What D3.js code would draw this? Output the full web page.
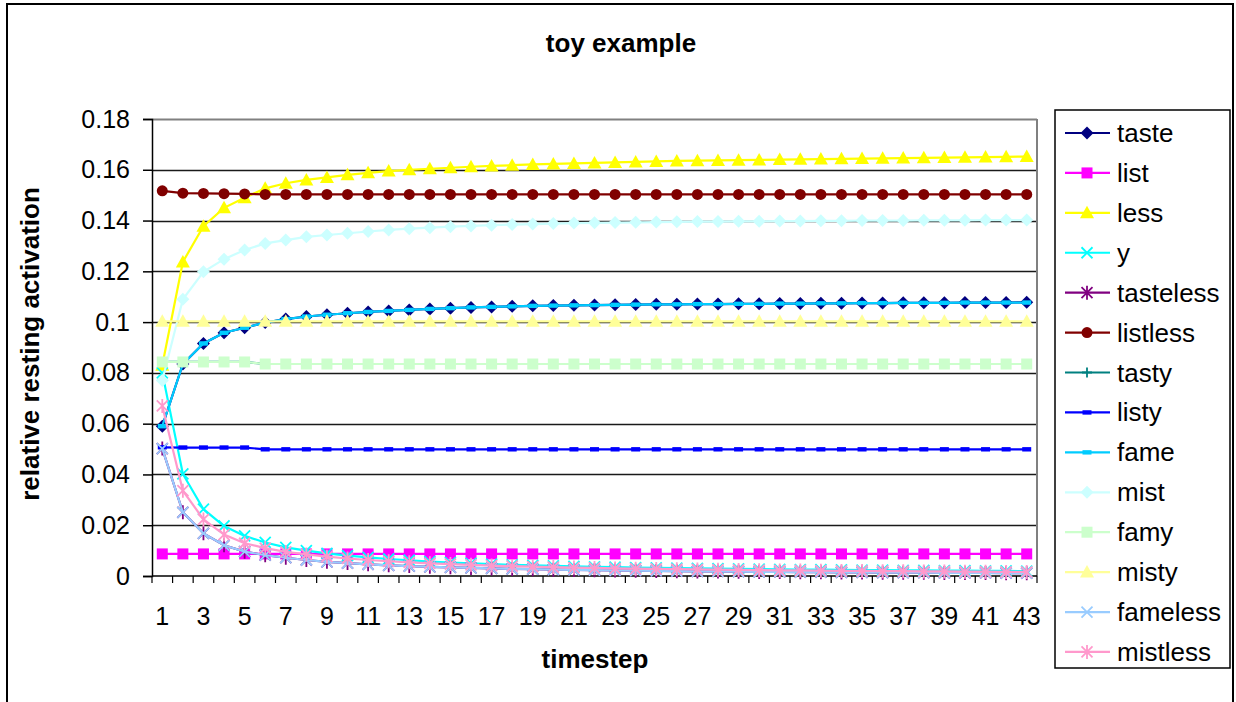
<!DOCTYPE html>
<html>
<head>
<meta charset="utf-8">
<script src="https://cdn.jsdelivr.net/npm/d3@7"></script>
<style>
  html, body { margin: 0; padding: 0; background: #fff; }
  svg { display: block; font-family: "Liberation Sans", Arial, sans-serif; }
</style>
</head>
<body>
<svg id="chart" width="1236" height="702"></svg>
<script>
// ---- data -------------------------------------------------------------
const timesteps = d3.range(1, 44);
const yTicks = [0, 0.02, 0.04, 0.06, 0.08, 0.1, 0.12, 0.14, 0.16, 0.18];
const xTickLabels = timesteps.filter(t => t % 2 === 1);

const taste = [0.059,0.0835,0.0916,0.0958,0.0978,0.0998,0.1012,0.1022,0.1029,0.1035,0.104,0.1044,0.1048,0.1052,0.1055,0.1058,0.106,0.1062,0.1064,0.1065,0.1066,0.1067,0.1068,0.1069,0.107,0.107,0.1071,0.1071,0.1072,0.1072,0.1073,0.1073,0.1074,0.1074,0.1075,0.1075,0.1076,0.1076,0.1076,0.1077,0.1077,0.1077,0.1078];
const list = [0.0087,0.0087,0.0087,0.0087,0.0087,0.0087,0.0087,0.0087,0.0087,0.0087,0.0087,0.0087,0.0087,0.0087,0.0087,0.0087,0.0087,0.0087,0.0087,0.0087,0.0087,0.0087,0.0087,0.0087,0.0087,0.0087,0.0087,0.0087,0.0087,0.0087,0.0087,0.0087,0.0087,0.0087,0.0087,0.0087,0.0087,0.0087,0.0087,0.0087,0.0087,0.0087,0.0087];
const less = [0.083,0.1237,0.1378,0.145,0.149,0.1527,0.1547,0.156,0.157,0.158,0.1588,0.1595,0.16,0.1604,0.1608,0.1612,0.1615,0.1618,0.1621,0.1623,0.1625,0.1627,0.1629,0.1631,0.1633,0.1635,0.1636,0.1637,0.1638,0.1639,0.164,0.1641,0.1642,0.1643,0.1644,0.1645,0.1646,0.1647,0.1648,0.1649,0.165,0.1651,0.1652];
const y = [0.08,0.0402,0.0263,0.0197,0.0158,0.0132,0.0113,0.01,0.0089,0.008,0.0073,0.0067,0.0062,0.0057,0.0053,0.005,0.0047,0.0044,0.0042,0.004,0.0038,0.0036,0.0035,0.0033,0.0032,0.0031,0.003,0.0029,0.0028,0.0027,0.0026,0.0025,0.0025,0.0024,0.0023,0.0023,0.0022,0.0022,0.0021,0.0021,0.002,0.002,0.0019];
const tasteless = [0.0502,0.0251,0.0168,0.0121,0.0096,0.0082,0.0072,0.0063,0.0056,0.0051,0.0046,0.0042,0.0039,0.0036,0.0034,0.0032,0.003,0.0028,0.0027,0.0025,0.0024,0.0023,0.0022,0.0021,0.002,0.0019,0.0018,0.0018,0.0017,0.0016,0.0016,0.0015,0.0015,0.0014,0.0014,0.0013,0.0013,0.0013,0.0012,0.0012,0.0012,0.0011,0.0011];
const listless = [0.1517,0.1508,0.1507,0.1506,0.1505,0.1503,0.1503,0.1503,0.1503,0.1503,0.1503,0.1503,0.1503,0.1503,0.1503,0.1503,0.1503,0.1503,0.1503,0.1503,0.1503,0.1503,0.1503,0.1503,0.1503,0.1503,0.1503,0.1503,0.1503,0.1503,0.1503,0.1503,0.1503,0.1503,0.1503,0.1503,0.1503,0.1503,0.1503,0.1503,0.1503,0.1503,0.1503];
const tasty = [0.0843,0.0843,0.0843,0.0843,0.0843,0.0835,0.0835,0.0835,0.0835,0.0835,0.0835,0.0835,0.0835,0.0835,0.0835,0.0835,0.0835,0.0835,0.0835,0.0835,0.0835,0.0835,0.0835,0.0835,0.0835,0.0835,0.0835,0.0835,0.0835,0.0835,0.0835,0.0835,0.0835,0.0835,0.0835,0.0835,0.0835,0.0835,0.0835,0.0835,0.0835,0.0835,0.0835];
const listy = [0.0507,0.0506,0.0506,0.0506,0.0506,0.0499,0.0499,0.0499,0.0499,0.0499,0.0499,0.0499,0.0499,0.0499,0.0499,0.0499,0.0499,0.0499,0.0499,0.0499,0.0499,0.0499,0.0499,0.0499,0.0499,0.0499,0.0499,0.0499,0.0499,0.0499,0.0499,0.0499,0.0499,0.0499,0.0499,0.0499,0.0499,0.0499,0.0499,0.0499,0.0499,0.0499,0.0499];
const fame = [0.059,0.0835,0.0916,0.0958,0.0978,0.0998,0.1012,0.1022,0.1029,0.1035,0.104,0.1044,0.1048,0.1052,0.1055,0.1058,0.106,0.1062,0.1064,0.1065,0.1066,0.1067,0.1068,0.1069,0.107,0.107,0.1071,0.1071,0.1072,0.1072,0.1073,0.1073,0.1074,0.1074,0.1075,0.1075,0.1076,0.1076,0.1076,0.1077,0.1077,0.1077,0.1077];
const mist = [0.077,0.109,0.1198,0.1248,0.1284,0.131,0.1323,0.1336,0.1343,0.135,0.1357,0.1363,0.1368,0.1372,0.1376,0.1379,0.1382,0.1384,0.1386,0.1388,0.139,0.1391,0.1392,0.1393,0.1394,0.1395,0.1396,0.1396,0.1397,0.1397,0.1398,0.1398,0.1399,0.1399,0.14,0.14,0.14,0.1401,0.1401,0.1401,0.1402,0.1402,0.1402];
const famy = [0.0843,0.0843,0.0843,0.0843,0.0843,0.0835,0.0835,0.0835,0.0835,0.0835,0.0835,0.0835,0.0835,0.0835,0.0835,0.0835,0.0835,0.0835,0.0835,0.0835,0.0835,0.0835,0.0835,0.0835,0.0835,0.0835,0.0835,0.0835,0.0835,0.0835,0.0835,0.0835,0.0835,0.0835,0.0835,0.0835,0.0835,0.0835,0.0835,0.0835,0.0835,0.0835,0.0835];
const misty = [0.1003,0.1003,0.1003,0.1003,0.1003,0.1003,0.1003,0.1003,0.1003,0.1003,0.1003,0.1003,0.1003,0.1003,0.1003,0.1003,0.1003,0.1003,0.1003,0.1003,0.1003,0.1003,0.1003,0.1003,0.1003,0.1003,0.1003,0.1003,0.1003,0.1003,0.1003,0.1003,0.1003,0.1003,0.1003,0.1003,0.1003,0.1003,0.1003,0.1003,0.1003,0.1003,0.1003];
const fameless = [0.0502,0.0251,0.0168,0.0121,0.0096,0.0082,0.0072,0.0063,0.0056,0.0051,0.0046,0.0042,0.0039,0.0036,0.0034,0.0032,0.003,0.0028,0.0027,0.0025,0.0024,0.0023,0.0022,0.0021,0.002,0.0019,0.0018,0.0018,0.0017,0.0016,0.0016,0.0015,0.0015,0.0014,0.0014,0.0013,0.0013,0.0013,0.0012,0.0012,0.0012,0.0011,0.0011];
const mistless = [0.067,0.0336,0.0223,0.0163,0.0129,0.011,0.0095,0.0085,0.0076,0.0069,0.0063,0.0058,0.0054,0.005,0.0047,0.0044,0.0041,0.0039,0.0037,0.0035,0.0033,0.0032,0.003,0.0029,0.0028,0.0027,0.0026,0.0025,0.0024,0.0023,0.0022,0.0022,0.0021,0.002,0.002,0.0019,0.0019,0.0018,0.0018,0.0017,0.0017,0.0016,0.0016];

const seriesNames = ["taste","list","less","y","tasteless","listless","tasty","listy","fame","mist","famy","misty","fameless","mistless"];
const seriesValues = [taste,list,less,y,tasteless,listless,tasty,listy,fame,mist,famy,misty,fameless,mistless];
const seriesColors = ["#000080","#FF00FF","#FFFF00","#00FFFF","#800080","#800000","#008080","#0000FF","#00CCFF","#CCFFFF","#CCFFCC","#FFFF99","#99CCFF","#FF99CC"];
const seriesMarkers = ["diamond","square","triangle","x","star","circle","plus","dash","dash","diamond","square","triangle","x","star"];

// ---- layout -----------------------------------------------------------
const svg = d3.select("#chart");
const plot = { left: 152, top: 119, right: 1037, bottom: 576 };
const FONT = "'Liberation Sans', Arial, sans-serif";

const xBand = d3.scaleBand().domain(timesteps).range([plot.left, plot.right]).paddingInner(0).paddingOuter(0);
const xc = t => xBand(t) + xBand.bandwidth() / 2;
const yScale = d3.scaleLinear().domain([0, 0.18]).range([plot.bottom, plot.top]);

// outer chart frame
svg.append("rect").attr("x", 7).attr("y", 4).attr("width", 1226).attr("height", 720)
  .attr("fill", "#fff").attr("stroke", "#000").attr("stroke-width", 2);

// gridlines
svg.append("g").selectAll("line").data(yTicks.filter(v => v > 0)).join("line")
  .attr("x1", plot.left).attr("x2", plot.right)
  .attr("y1", d => Math.round(yScale(d)) + 0.5).attr("y2", d => Math.round(yScale(d)) + 0.5)
  .attr("stroke", d => d === 0.18 ? "#808080" : "#1a1a1a").attr("stroke-width", d => d === 0.18 ? 2 : 1.5);

// plot-area border (right side)
svg.append("line").attr("x1", plot.right).attr("x2", plot.right)
  .attr("y1", plot.top).attr("y2", plot.bottom).attr("stroke", "#808080").attr("stroke-width", 2);

// y axis
const yAxis = d3.axisLeft(yScale).tickValues(yTicks).tickSize(9).tickPadding(13)
  .tickFormat(d => d === 0 ? "0" : d3.format("")(+d.toFixed(2)));
const gy = svg.append("g").attr("transform", `translate(${plot.left},0)`).call(yAxis);
gy.select(".domain").attr("stroke", "#000").attr("stroke-width", 1.5);
gy.selectAll(".tick line").attr("stroke", "#000").attr("stroke-width", 1.5);
gy.selectAll(".tick text").attr("font-family", FONT).attr("font-size", 25).attr("fill", "#000");

// x axis: category ticks at band edges, labels on every other category
const edges = timesteps.map(t => xBand(t)).concat([plot.right]);
const gx = svg.append("g");
gx.append("line").attr("x1", plot.left).attr("x2", plot.right)
  .attr("y1", plot.bottom).attr("y2", plot.bottom).attr("stroke", "#000").attr("stroke-width", 1.5);
gx.selectAll("line.tk").data(edges).join("line").attr("class", "tk")
  .attr("x1", d => d).attr("x2", d => d).attr("y1", plot.bottom).attr("y2", plot.bottom + 7)
  .attr("stroke", "#000").attr("stroke-width", 1.2);
gx.selectAll("text").data(xTickLabels).join("text")
  .attr("x", d => xc(d)).attr("y", 625).attr("text-anchor", "middle")
  .attr("font-family", FONT).attr("font-size", 25).text(d => d);

// titles
svg.append("text").attr("x", 621).attr("y", 52).attr("text-anchor", "middle")
  .attr("font-family", FONT).attr("font-size", 26).attr("font-weight", "bold").text("toy example");
svg.append("text").attr("x", 595).attr("y", 668).attr("text-anchor", "middle")
  .attr("font-family", FONT).attr("font-size", 26).attr("font-weight", "bold").text("timestep");
svg.append("text").attr("transform", "translate(39,344) rotate(-90)").attr("text-anchor", "middle")
  .attr("font-family", FONT).attr("font-size", 26).attr("font-weight", "bold").text("relative resting activation");

// ---- markers ----------------------------------------------------------
function drawMarker(g, kind, color) {
  switch (kind) {
    case "diamond":
      g.append("path").attr("d", "M0,-6.5L6.5,0L0,6.5L-6.5,0Z").attr("fill", color); break;
    case "square":
      g.append("rect").attr("x", -5.5).attr("y", -5.5).attr("width", 11).attr("height", 11).attr("fill", color); break;
    case "triangle":
      g.append("path").attr("d", "M0,-7L7,5.5L-7,5.5Z").attr("fill", color); break;
    case "circle":
      g.append("circle").attr("r", 5.5).attr("fill", color); break;
    case "x":
      g.append("path").attr("d", "M-5.5,-5.5L5.5,5.5M-5.5,5.5L5.5,-5.5").attr("stroke", color).attr("stroke-width", 1.8).attr("fill", "none"); break;
    case "star":
      g.append("path").attr("d", "M-5.5,-5.5L5.5,5.5M-5.5,5.5L5.5,-5.5M0,-7L0,7").attr("stroke", color).attr("stroke-width", 1.8).attr("fill", "none"); break;
    case "plus":
      g.append("path").attr("d", "M-5,0L5,0M0,-5L0,5").attr("stroke", color).attr("stroke-width", 1.8).attr("fill", "none"); break;
    case "dash":
      g.append("rect").attr("x", -4.5).attr("y", -2.2).attr("width", 9).attr("height", 4.4).attr("fill", color); break;
  }
}

// ---- series -----------------------------------------------------------
const lineGen = d3.line().x((d, i) => xc(timesteps[i])).y(d => yScale(d));
const seriesLayer = svg.append("g");
seriesNames.forEach((name, si) => {
  const g = seriesLayer.append("g").attr("class", "series-" + name);
  g.append("path").datum(seriesValues[si]).attr("d", lineGen)
    .attr("fill", "none").attr("stroke", seriesColors[si]).attr("stroke-width", 2.2);
  seriesValues[si].forEach((v, i) => {
    drawMarker(g.append("g").attr("transform", `translate(${xc(timesteps[i])},${yScale(v)})`), seriesMarkers[si], seriesColors[si]);
  });
});

// ---- legend -----------------------------------------------------------
const legend = svg.append("g");
legend.append("rect").attr("x", 1055).attr("y", 110).attr("width", 175).attr("height", 558)
  .attr("fill", "#fff").attr("stroke", "#000").attr("stroke-width", 1.5);
seriesNames.forEach((name, si) => {
  const ly = 133 + si * 39.92;
  const row = legend.append("g");
  row.append("line").attr("x1", 1065).attr("x2", 1110).attr("y1", ly).attr("y2", ly)
    .attr("stroke", seriesColors[si]).attr("stroke-width", 2.2);
  drawMarker(row.append("g").attr("transform", `translate(1087,${ly})`), seriesMarkers[si], seriesColors[si]);
  row.append("text").attr("x", 1117).attr("y", ly + 9).attr("font-family", FONT)
    .attr("font-size", 26).attr("fill", "#000").text(name);
});
</script>
</body>
</html>
